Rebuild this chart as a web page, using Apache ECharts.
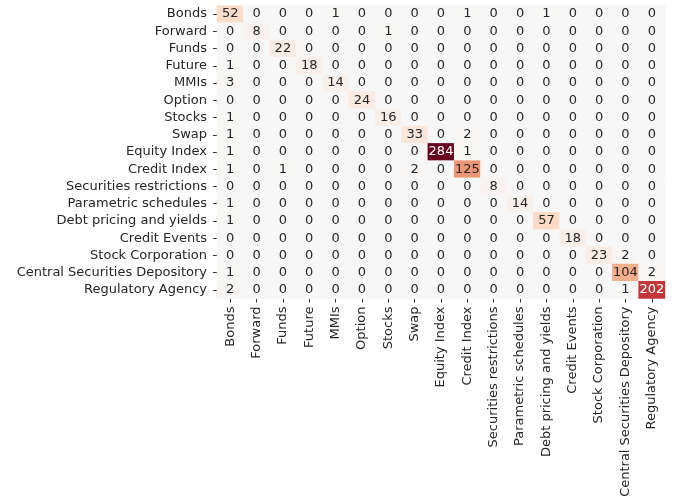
<!DOCTYPE html>
<html>
<head>
<meta charset="utf-8">
<script src="https://cdn.jsdelivr.net/npm/echarts@6/dist/echarts.min.js"></script>
<style>
  html, body { margin: 0; padding: 0; background: #ffffff; }
  #chart { width: 678px; height: 503px; }
</style>
</head>
<body>
<div id="chart"></div>
<script>
const categories = [
  'Bonds', 'Forward', 'Funds', 'Future', 'MMIs', 'Option', 'Stocks', 'Swap',
  'Equity Index', 'Credit Index', 'Securities restrictions', 'Parametric schedules',
  'Debt pricing and yields', 'Credit Events', 'Stock Corporation',
  'Central Securities Depository', 'Regulatory Agency'
];

// rows follow the y axis order (top to bottom), columns follow the x axis
const matrix = [
  [52, 0, 0, 0, 1, 0, 0, 0, 0, 1, 0, 0, 1, 0, 0, 0, 0],
  [0, 8, 0, 0, 0, 0, 1, 0, 0, 0, 0, 0, 0, 0, 0, 0, 0],
  [0, 0, 22, 0, 0, 0, 0, 0, 0, 0, 0, 0, 0, 0, 0, 0, 0],
  [1, 0, 0, 18, 0, 0, 0, 0, 0, 0, 0, 0, 0, 0, 0, 0, 0],
  [3, 0, 0, 0, 14, 0, 0, 0, 0, 0, 0, 0, 0, 0, 0, 0, 0],
  [0, 0, 0, 0, 0, 24, 0, 0, 0, 0, 0, 0, 0, 0, 0, 0, 0],
  [1, 0, 0, 0, 0, 0, 16, 0, 0, 0, 0, 0, 0, 0, 0, 0, 0],
  [1, 0, 0, 0, 0, 0, 0, 33, 0, 2, 0, 0, 0, 0, 0, 0, 0],
  [1, 0, 0, 0, 0, 0, 0, 0, 284, 1, 0, 0, 0, 0, 0, 0, 0],
  [1, 0, 1, 0, 0, 0, 0, 2, 0, 125, 0, 0, 0, 0, 0, 0, 0],
  [0, 0, 0, 0, 0, 0, 0, 0, 0, 0, 8, 0, 0, 0, 0, 0, 0],
  [1, 0, 0, 0, 0, 0, 0, 0, 0, 0, 0, 14, 0, 0, 0, 0, 0],
  [1, 0, 0, 0, 0, 0, 0, 0, 0, 0, 0, 0, 57, 0, 0, 0, 0],
  [0, 0, 0, 0, 0, 0, 0, 0, 0, 0, 0, 0, 0, 18, 0, 0, 0],
  [0, 0, 0, 0, 0, 0, 0, 0, 0, 0, 0, 0, 0, 0, 23, 2, 0],
  [1, 0, 0, 0, 0, 0, 0, 0, 0, 0, 0, 0, 0, 0, 0, 104, 2],
  [2, 0, 0, 0, 0, 0, 0, 0, 0, 0, 0, 0, 0, 0, 0, 1, 202]
];

const maxValue = 284;
const palette = ['#f7f7f7', '#fddbc7', '#f4a582', '#d6604d', '#b2182b', '#67001f'];

const data = [];
matrix.forEach((row, y) => {
  row.forEach((v, x) => {
    data.push({
      value: [x, y, v],
      label: { color: v / maxValue > 0.6 ? '#ffffff' : '#262626' }
    });
  });
});

const chart = echarts.init(document.getElementById('chart'));
chart.setOption({
  animation: false,
  textStyle: { fontFamily: 'DejaVu Sans' },
  grid: { left: 217, right: 13, top: 5.5, bottom: 204.5, containLabel: false },
  xAxis: {
    type: 'category',
    data: categories,
    axisLine: { show: false },
    axisTick: { show: true, alignWithLabel: true, length: 4, lineStyle: { color: '#333333' } },
    axisLabel: { rotate: 90, interval: 0, margin: 8, fontSize: 13, color: '#262626', fontFamily: 'DejaVu Sans' },
    splitLine: { show: false }
  },
  yAxis: {
    type: 'category',
    data: categories,
    inverse: true,
    axisLine: { show: false },
    axisTick: { show: true, alignWithLabel: true, length: 4, lineStyle: { color: '#333333' } },
    axisLabel: { interval: 0, margin: 10, fontSize: 13, color: '#262626', fontFamily: 'DejaVu Sans' },
    splitLine: { show: false }
  },
  visualMap: {
    show: false,
    min: 0,
    max: maxValue,
    dimension: 2,
    inRange: { color: palette }
  },
  series: [{
    type: 'heatmap',
    data: data,
    itemStyle: { borderWidth: 0 },
    label: { show: true, fontSize: 13, fontFamily: 'DejaVu Sans' },
    emphasis: { disabled: true }
  }]
});
</script>
</body>
</html>
